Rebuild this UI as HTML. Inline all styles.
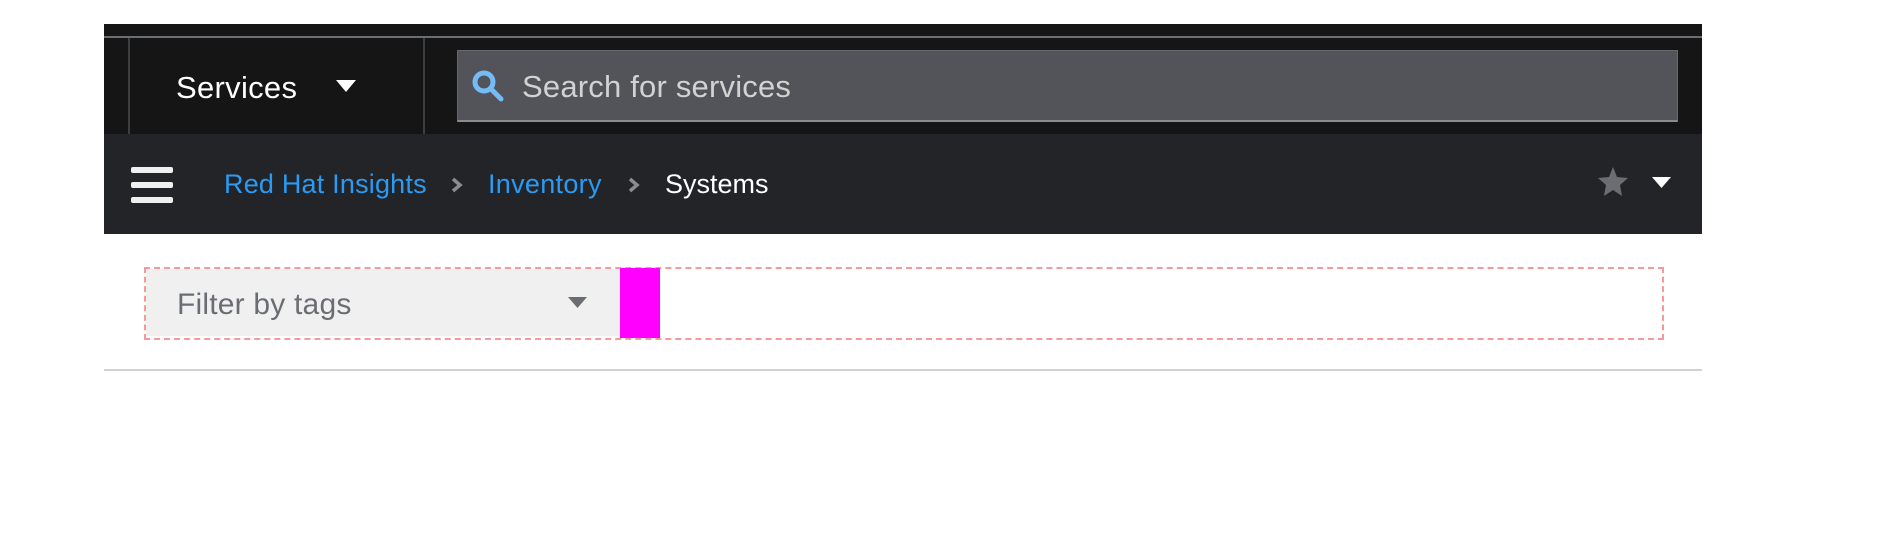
<!DOCTYPE html>
<html><head><meta charset="utf-8"><style>
body{margin:0;width:1886px;height:534px;background:#fff;position:relative;overflow:hidden;font-family:"Liberation Sans",sans-serif}
div,span,svg{position:absolute}
.t{white-space:nowrap;line-height:1}
</style></head><body>
<div style="left:104px;top:24px;width:1598px;height:110px;background:#151515"></div>
<div style="left:104px;top:36px;width:1598px;height:2px;background:#6a6e73"></div>
<div style="left:128px;top:38px;width:2px;height:96px;background:#3c3f42"></div>
<div style="left:423px;top:38px;width:2px;height:96px;background:#3c3f42"></div>
<span class="t" style="left:176px;top:72px;font-size:31px;color:#fff;letter-spacing:0.3px">Services</span>
<svg style="left:336px;top:80px" width="20" height="12"><polygon points="0,0 20,0 10,12" fill="#fff"/></svg>
<div style="left:457px;top:50px;width:1219px;height:69px;background:#525459;border:1px solid #66686d;border-bottom:2px solid #8a8d90"></div>
<svg style="left:472px;top:70px" width="34" height="32"><circle cx="12" cy="12" r="9" fill="none" stroke="#73bcf7" stroke-width="5"/><line x1="19" y1="19" x2="29" y2="29" stroke="#73bcf7" stroke-width="5" stroke-linecap="round"/></svg>
<span class="t" style="left:522px;top:71px;font-size:31px;color:#d2d2d2;letter-spacing:0.2px">Search for services</span>
<div style="left:104px;top:134px;width:1598px;height:100px;background:#232428"></div>
<div style="left:131px;top:167px;width:42px;height:6px;border-radius:2px;background:#f0f0f0"></div>
<div style="left:131px;top:182px;width:42px;height:6px;border-radius:2px;background:#f0f0f0"></div>
<div style="left:131px;top:197px;width:42px;height:6px;border-radius:2px;background:#f0f0f0"></div>
<span class="t" style="left:224px;top:171px;font-size:27px;color:#2b9af3;letter-spacing:0.2px">Red Hat Insights</span>
<svg style="left:451px;top:177px" width="12" height="16"><polyline points="2,2 9,8 2,14" fill="none" stroke="#8a8d90" stroke-width="3.5"/></svg>
<span class="t" style="left:488px;top:171px;font-size:27px;color:#2b9af3;letter-spacing:0.3px">Inventory</span>
<svg style="left:628px;top:177px" width="12" height="16"><polyline points="2,2 9,8 2,14" fill="none" stroke="#8a8d90" stroke-width="3.5"/></svg>
<span class="t" style="left:665px;top:171px;font-size:27px;color:#fff">Systems</span>
<svg style="left:1598px;top:167px" width="30" height="29"><polygon points="15,0 19,10 30,11 22,18 24,29 15,23 6,29 8,18 0,11 11,10" fill="#6a6e73"/></svg>
<svg style="left:1652px;top:177px" width="19" height="11"><polygon points="0,0 19,0 9.5,11" fill="#fff"/></svg>
<div style="left:144px;top:267px;width:1516px;height:69px;border:2px dashed #f59a9a"></div>
<div style="left:146px;top:269px;width:474px;height:67px;background:#f0f0f0"></div>
<span class="t" style="left:177px;top:290px;font-size:30px;color:#6a6e73;letter-spacing:0.2px">Filter by tags</span>
<svg style="left:568px;top:297px" width="19" height="11"><polygon points="0,0 19,0 9.5,11" fill="#6a6e73"/></svg>
<div style="left:620px;top:268px;width:40px;height:70px;background:#ff00ff"></div>
<div style="left:104px;top:369px;width:1598px;height:2px;background:#d2d2d2"></div>
</body></html>
